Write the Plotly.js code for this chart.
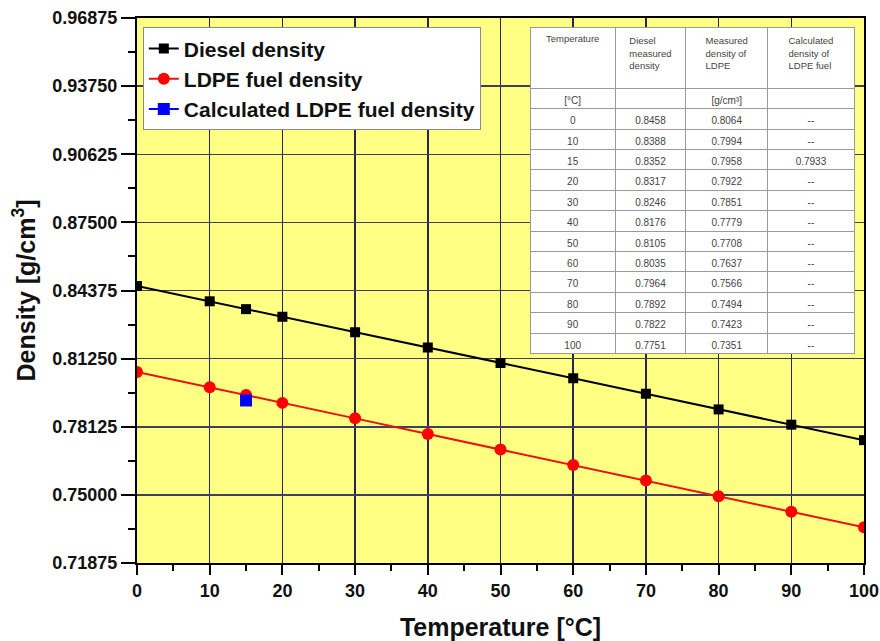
<!DOCTYPE html>
<html>
<head>
<meta charset="utf-8">
<script src="https://cdn.plot.ly/plotly-3.0.1.min.js"></script>
<style>html,body{margin:0;padding:0;background:#fff;}#chart{width:880px;height:641px;}</style>
</head>
<body>
<div id="chart"></div>
<script>
// Data
var temperatures = [0, 10, 15, 20, 30, 40, 50, 60, 70, 80, 90, 100];
var dieselDensity = [0.8458, 0.8388, 0.8352, 0.8317, 0.8246, 0.8176, 0.8105, 0.8035, 0.7964, 0.7892, 0.7822, 0.7751];
var ldpeDensity = [0.8064, 0.7994, 0.7958, 0.7922, 0.7851, 0.7779, 0.7708, 0.7637, 0.7566, 0.7494, 0.7423, 0.7351];
var calcTemp = [15];
var calcDensity = [0.7933];
var yTickVals = [0.71875, 0.75, 0.78125, 0.8125, 0.84375, 0.875, 0.90625, 0.9375, 0.96875];
var yTickText = ['0.71875', '0.75000', '0.78125', '0.81250', '0.84375', '0.87500', '0.90625', '0.93750', '0.96875'];
var tableHeaders = ['Temperature', 'Diesel<br>measured<br>density', 'Measured<br>density of<br>LDPE', 'Calculated<br>density of<br>LDPE fuel'];
var tableUnits = ['[°C]', ' ', '[g/cm³]', ' '];

var colT = [tableUnits[0]].concat(temperatures.map(function (t) { return String(t); }));
var colD = [tableUnits[1]].concat(dieselDensity.map(function (v) { return v.toFixed(4); }));
var colL = [tableUnits[2]].concat(ldpeDensity.map(function (v) { return v.toFixed(4); }));
var colC = [tableUnits[3]].concat(temperatures.map(function (t) {
  var i = calcTemp.indexOf(t);
  return i >= 0 ? calcDensity[i].toFixed(4) : '--';
}));

var FONT = 'Arial, Liberation Sans, sans-serif';

var traces = [
  {
    x: temperatures, y: dieselDensity, type: 'scatter', mode: 'lines+markers',
    name: 'Diesel density',
    line: {color: '#000000', width: 2},
    marker: {symbol: 'square', size: 10, color: '#000000'}
  },
  {
    x: temperatures, y: ldpeDensity, type: 'scatter', mode: 'lines+markers',
    name: 'LDPE fuel density',
    line: {color: '#e8130c', width: 2},
    marker: {symbol: 'circle', size: 12, color: '#ff0000'}
  },
  {
    x: calcTemp, y: calcDensity, type: 'scatter', mode: 'lines+markers',
    name: 'Calculated LDPE fuel density',
    line: {color: '#0000ff', width: 2},
    marker: {symbol: 'square', size: 12, color: '#0000ff'}
  },
  {
    type: 'table',
    domain: {x: [0.541, 0.988], y: [0.37, 0.983]},
    columnwidth: [85, 71, 82, 87],
    header: {
      values: tableHeaders,
      align: 'center',
      height: 61,
      fill: {color: '#ffffff'},
      line: {color: '#9a9a9a', width: 1},
      font: {family: FONT, size: 9.5, color: '#444444'}
    },
    cells: {
      values: [colT, colD, colL, colC],
      align: 'center',
      height: 20.4,
      fill: {color: '#ffffff'},
      line: {color: '#9a9a9a', width: 1},
      font: {family: FONT, size: 10, color: '#444444'}
    }
  }
];

var layout = {
  width: 880, height: 641,
  margin: {l: 137, r: 16, t: 18, b: 78},
  paper_bgcolor: '#ffffff',
  plot_bgcolor: '#ffff84',
  showlegend: true,
  legend: {
    x: 0.008, y: 0.983, xanchor: 'left', yanchor: 'top',
    bgcolor: '#ffffff', bordercolor: '#8a8a8a', borderwidth: 1,
    font: {family: FONT, size: 21, color: '#111111', weight: 'bold'},
    tracegroupgap: 0
  },
  xaxis: {
    range: [0, 100], dtick: 10, tick0: 0,
    showgrid: true, gridcolor: '#262650', gridwidth: 1.5,
    zeroline: false,
    showline: true, linecolor: '#000000', linewidth: 2, mirror: true,
    ticks: 'outside', ticklen: 10, tickwidth: 2, tickcolor: '#000000',
    minor: {dtick: 5, ticks: 'outside', ticklen: 6, tickwidth: 2, tickcolor: '#000000', showgrid: false},
    tickfont: {family: FONT, size: 18, color: '#111111', weight: 'bold'},
    title: {text: 'Temperature [°C]', standoff: 20,
      font: {family: FONT, size: 25, color: '#111111', weight: 'bold'}}
  },
  yaxis: {
    range: [0.71875, 0.96875],
    tickvals: yTickVals, ticktext: yTickText,
    showgrid: true, gridcolor: '#40405e', gridwidth: 1.5,
    zeroline: false,
    showline: true, linecolor: '#000000', linewidth: 2, mirror: true,
    ticks: 'outside', ticklen: 14, tickwidth: 2, tickcolor: '#000000',
    minor: {dtick: 0.015625, tick0: 0.71875, ticks: 'outside', ticklen: 7, tickwidth: 2, tickcolor: '#000000', showgrid: false},
    tickfont: {family: FONT, size: 18, color: '#111111', weight: 'bold'},
    title: {text: 'Density [g/cm<sup>3</sup>]', standoff: 10,
      font: {family: FONT, size: 25, color: '#111111', weight: 'bold'}}
  }
};

Plotly.newPlot('chart', traces, layout, {displayModeBar: false, staticPlot: true});
</script>
</body>
</html>
